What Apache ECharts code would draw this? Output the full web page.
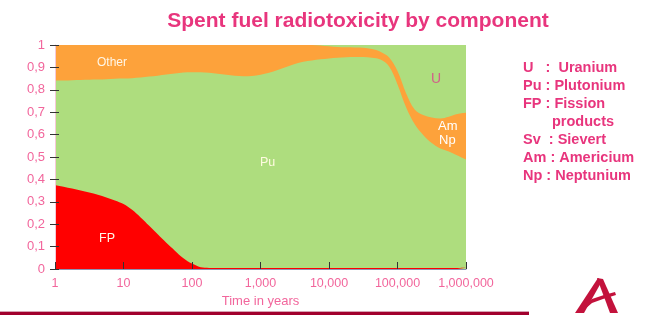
<!DOCTYPE html>
<html><head><meta charset="utf-8">
<script src="https://cdn.jsdelivr.net/npm/echarts@6/dist/echarts.min.js"></script>
<style>html,body{margin:0;padding:0;background:#fff;}#c{width:655px;height:323px;}</style>
</head><body><div id="c"></div>
<script>
// Time in years (log axis), sampled every 1/8 decade
const years = [1, 1.334, 1.778, 2.371, 3.162, 4.217, 5.623, 7.499,
  10, 13.34, 17.78, 23.71, 31.62, 42.17, 56.23, 74.99,
  100, 133.4, 177.8, 237.1, 316.2, 421.7, 562.3, 749.9,
  1000, 1334, 1778, 2371, 3162, 4217, 5623, 7499,
  10000, 13335, 17783, 23714, 31623, 42170, 56234, 74989,
  100000, 133352, 177828, 237137, 316228, 421697, 562341, 749894, 1000000];
// Upper boundary of each component (cumulative share)
const fpTop = [0.375, 0.367, 0.359, 0.350, 0.341, 0.331, 0.319, 0.306,
  0.290, 0.264, 0.230, 0.193, 0.155, 0.117, 0.082, 0.048,
  0.024, 0.008, 0.005, 0.004, 0.004, 0.004, 0.004, 0.004,
  0.004, 0.004, 0.004, 0.004, 0.004, 0.004, 0.004, 0.004,
  0.004, 0.004, 0.004, 0.004, 0.004, 0.004, 0.004, 0.004,
  0.004, 0.004, 0.004, 0.004, 0.004, 0.004, 0.004, 0.005, 0.006];
const puTop = [0.842, 0.842, 0.843, 0.844, 0.845, 0.846, 0.847, 0.849,
  0.850, 0.852, 0.855, 0.859, 0.863, 0.868, 0.873, 0.877,
  0.878, 0.878, 0.876, 0.872, 0.867, 0.863, 0.861, 0.862,
  0.867, 0.876, 0.888, 0.902, 0.915, 0.925, 0.931, 0.936,
  0.940, 0.943, 0.945, 0.946, 0.946, 0.943, 0.935, 0.905,
  0.824, 0.722, 0.647, 0.598, 0.562, 0.538, 0.525, 0.507, 0.489];
const amNpTop = [1, 1, 1, 1, 1, 1, 1, 1,
  1, 1, 1, 1, 1, 1, 1, 1,
  1, 1, 1, 1, 1, 1, 1, 1,
  1, 1, 1, 1, 1, 1, 1, 0.998,
  0.994, 0.991, 0.990, 0.989, 0.988, 0.982, 0.970, 0.945,
  0.884, 0.785, 0.712, 0.687, 0.676, 0.672, 0.680, 0.692, 0.697];
const uTop = years.map(() => 1);
const yTicks = [0, 0.1, 0.2, 0.3, 0.4, 0.5, 0.6, 0.7, 0.8, 0.9, 1];
const legendLines = ['U   :  Uranium', 'Pu : Plutonium', 'FP : Fission', 'products', 'Sv  : Sievert', 'Am : Americium', 'Np : Neptunium'];

const FONT = 'Liberation Sans, Arial, sans-serif';
const pair = arr => years.map((y, i) => [y, arr[i]]);
function area(name, arr, color) {
  return {
    name, type: 'line', data: pair(arr), smooth: 0.35, symbol: 'none',
    lineStyle: { width: 0 }, areaStyle: { color, opacity: 1 }, silent: true
  };
}
const chart = echarts.init(document.getElementById('c'), null, { renderer: 'canvas' });
const labelColor = '#f2669c';
const legendGraphics = legendLines.map((t, i) => ({
  type: 'text', z: 100, left: i === 3 ? 552 : 523, top: 60 + i * 18,
  style: { text: t, fill: '#e8357d', font: 'bold 14.5px ' + FONT }
}));
function lbl(text, left, top, fill, size) {
  return { type: 'text', z: 100, left, top, style: { text, fill, font: size + 'px ' + FONT } };
}
chart.setOption({
  animation: false,
  title: {
    text: 'Spent fuel radiotoxicity by component', left: 353, top: 6, textAlign: 'center',
    textStyle: { color: '#e8357d', fontSize: 21, fontWeight: 'bold', fontFamily: FONT }
  },
  grid: { left: 55, right: 189, top: 45, bottom: 54 },
  xAxis: {
    type: 'log', logBase: 10, min: 1, max: 1000000, interval: 1, z: 10,
    name: 'Time in years', nameLocation: 'middle', nameGap: 25,
    nameTextStyle: { color: labelColor, fontSize: 13, fontFamily: FONT },
    axisLine: { show: true, lineStyle: { color: '#8d93b3', width: 1 } },
    axisTick: { show: true, inside: true, length: 7, lineStyle: { color: '#333', width: 1 } },
    axisLabel: { color: labelColor, fontSize: 12.5, fontFamily: FONT, margin: 8,
      formatter: v => Math.round(v).toLocaleString('en-US') },
    splitLine: { show: false }, minorTick: { show: false }
  },
  yAxis: [{
    type: 'value', min: 0, max: 1, interval: 0.1, z: 10,
    axisLine: { show: true, lineStyle: { color: '#f6c9d8', width: 1 } },
    axisTick: { show: true, length: 5, lineStyle: { color: '#333', width: 1 } },
    axisLabel: { color: labelColor, fontSize: 13, fontFamily: FONT, margin: 10,
      formatter: v => yTicks.indexOf(Math.round(v * 10) / 10) >= 0 ? (v === 0 ? '0' : v === 1 ? '1' : v.toFixed(1).replace('.', ',')) : '' },
    splitLine: { show: false }
  }, {
    type: 'value', min: 0, max: 1, interval: 0.1, position: 'left', z: 10,
    axisLine: { show: false }, axisLabel: { show: false }, splitLine: { show: false },
    axisTick: { show: true, inside: true, length: 4, lineStyle: { color: '#333', width: 1 } }
  }],
  series: [
    area('U', uTop, '#aedd7e'),
    area('Am Np / Other', amNpTop, '#fda23b'),
    area('Pu', puTop, '#aedd7e'),
    area('FP', fpTop, '#ff0000')
  ],
  graphic: [
    lbl('Other', 97, 57, '#fff6e6', 12),
    lbl('Pu', 260, 156, '#fffbe0', 12.5),
    lbl('FP', 99, 232, '#fff6e6', 12.5),
    lbl('U', 431, 72, '#d2608a', 14),
    lbl('Am', 438, 120, '#ffffff', 13),
    lbl('Np', 439, 134, '#ffffff', 13),
    ...legendGraphics,
    { type: 'rect', shape: { x: 0, y: 312, width: 529, height: 3 }, style: { fill: '#a1002d' } },
    { type: 'rect', shape: { x: 0, y: 311, width: 529, height: 1 }, style: { fill: '#d7a3b3' } },
    { type: 'polygon', shape: { points: [[575, 313], [584, 313], [602, 281], [598, 278]] }, style: { fill: '#c3123c' } },
    { type: 'polygon', shape: { points: [[597, 278], [603, 279], [618, 313], [610, 313]] }, style: { fill: '#c3123c' } },
    { type: 'polygon', shape: { points: [[583, 306], [592, 299], [604, 295], [615, 292], [616, 295], [603, 299], [592, 303], [585, 309]] }, style: { fill: '#c3123c' } }
  ]
});
</script></body></html>
